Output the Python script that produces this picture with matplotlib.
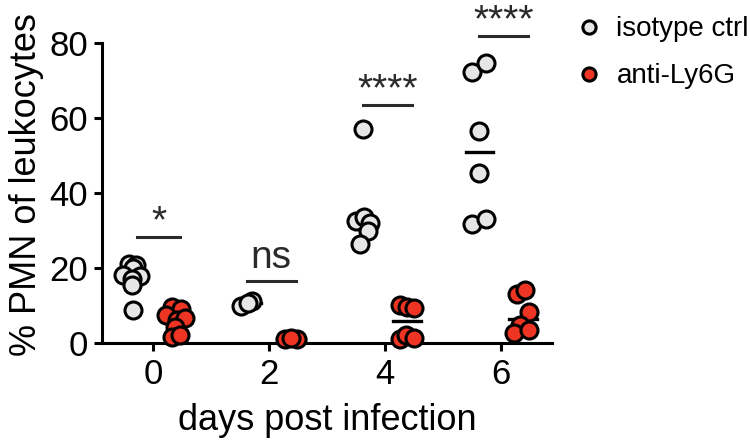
import numpy as np
import matplotlib
matplotlib.use('Agg')
import matplotlib.pyplot as plt
from matplotlib.lines import Line2D

plt.rcParams['font.family'] = ['Liberation Sans', 'DejaVu Sans']

# values (jitter = offset from the day, y = % PMN)
days = [0, 2, 4, 6]
day_labels = ['0', '2', '4', '6']

iso_jit = {0: [-0.42, -0.29, -0.35, -0.52, -0.22, -0.36, -0.37, -0.35],
           2: [-0.49, -0.29, -0.36],
           4: [-0.38, -0.50, -0.36, -0.25, -0.29, -0.43],
           6: [-0.50, -0.26, -0.38, -0.38, -0.50, -0.26]}
iso_y = {0: [21.2, 20.8, 20.0, 18.1, 17.9, 17.0, 15.5, 8.8],
         2: [9.9, 11.3, 10.8],
         4: [57.1, 32.5, 33.5, 31.9, 29.9, 26.4],
         6: [72.4, 74.7, 56.6, 45.4, 31.7, 33.1]}

anti_jit = {0: [0.32, 0.49, 0.23, 0.42, 0.55, 0.38, 0.32, 0.47],
            2: [0.28, 0.49, 0.38],
            4: [0.26, 0.38, 0.50, 0.26, 0.37, 0.50],
            6: [0.28, 0.42, 0.48, 0.33, 0.22, 0.48]}
anti_y = {0: [9.7, 9.0, 7.5, 6.1, 6.6, 4.4, 1.7, 2.1],
          2: [1.0, 1.2, 1.5],
          4: [10.1, 9.7, 9.5, 1.0, 2.1, 1.5],
          6: [13.2, 14.3, 8.2, 4.8, 2.6, 3.5]}

sig_labels = ['*', 'ns', '****', '****']
sig_y = [28.3, 16.5, 63.6, 82.0]

iso_color = '#e6e6e6'
anti_color = '#ee3524'

fig = plt.figure(figsize=(7.5, 4.48), dpi=100)
ax = fig.add_axes([0.136, 0.234, 0.6, 0.67])

for d in days:
    # median lines drawn first, points on top
    ax.plot([d - 0.6, d - 0.14], [np.median(iso_y[d])] * 2, color='black', lw=2.4, zorder=2)
    ax.plot([d + 0.14, d + 0.62], [np.median(anti_y[d])] * 2, color='black', lw=2.4, zorder=2)
    ax.scatter(d + np.array(iso_jit[d]), iso_y[d], s=150, facecolor=iso_color,
               edgecolor='black', linewidth=2.2, zorder=3, clip_on=False)
    ax.scatter(d + np.array(anti_jit[d]), anti_y[d], s=150, facecolor=anti_color,
               edgecolor='black', linewidth=2.2, zorder=3, clip_on=False)

for d, lab, yy in zip(days, sig_labels, sig_y):
    c = d + 0.04 if d > 0 else d + 0.1
    w = 0.42 if d > 0 else 0.37
    ax.plot([c - w, c + w], [yy, yy], color='#2a2a2a', lw=2.2, clip_on=False, zorder=2)
    if lab == 'ns':
        ax.text(c, yy + 1.5, lab, ha='center', va='bottom', fontsize=28, color='#2a2a2a')
    else:
        ax.text(c, yy - 1.0, lab, ha='center', va='bottom', fontsize=28, color='#2a2a2a',
                clip_on=False)

ax.set_xlim(-0.88, 6.88)
ax.set_ylim(0, 80)
ax.set_xticks(days)
ax.set_xticklabels(day_labels)
ax.set_yticks([0, 20, 40, 60, 80])
for s in ['top', 'right']:
    ax.spines[s].set_visible(False)
for s in ['left', 'bottom']:
    ax.spines[s].set_linewidth(2.2)
ax.tick_params(width=2.2, length=6, labelsize=25)
ax.tick_params(axis='x', pad=5)
ax.tick_params(axis='y', pad=4)
ax.set_xlabel('days post infection', fontsize=26, labelpad=8)
ax.set_ylabel('% PMN of leukocytes', fontsize=26, labelpad=4)
ax.yaxis.label.set_y(0.53)

handles = [Line2D([], [], ls='none', marker='o', ms=9.5, mfc=iso_color, mec='black', mew=2.2),
           Line2D([], [], ls='none', marker='o', ms=9.5, mfc=anti_color, mec='black', mew=2.2)]
fig.legend(handles, ['isotype ctrl', 'anti-Ly6G'], loc='upper left',
           bbox_to_anchor=(0.733, 1.019), frameon=False, fontsize=20,
           handletextpad=0.5, labelspacing=0.75, handlelength=1.0)

fig.savefig('out.png', dpi=100)
